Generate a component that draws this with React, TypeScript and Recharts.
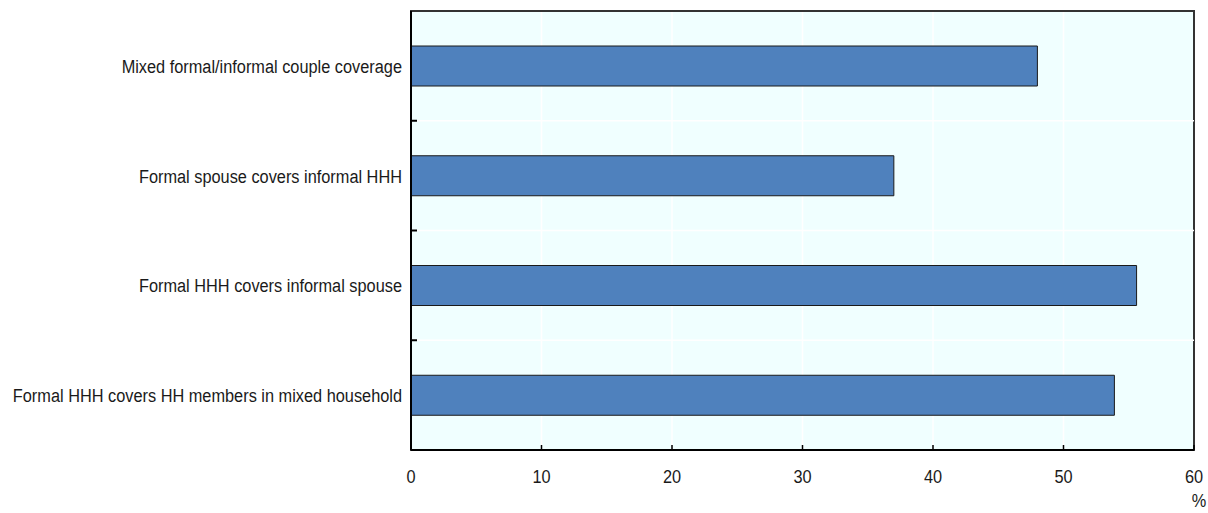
import React from 'react';
import { BarChart, Bar, XAxis, YAxis, CartesianGrid, ReferenceArea, ReferenceLine, Label } from 'recharts';

const categories = [
  'Mixed formal/informal couple coverage',
  'Formal spouse covers informal HHH',
  'Formal HHH covers informal spouse',
  'Formal HHH covers HH members in mixed household',
];
const values = [48.0, 37.0, 55.6, 53.9];
const xTicks = [0, 10, 20, 30, 40, 50, 60];

const data = categories.map((c, i) => ({ name: c, value: values[i] }));

const FONT = '"Liberation Sans", Arial, sans-serif';
const FS = 19;
const SX = 0.86;
const TXT = '#1a1a1a';

const YTick = (props: any) => {
  const { x, y, payload } = props;
  return (
    <g transform={`translate(${x},${y})`}>
      <text transform={`scale(${SX},1)`} x={0} y={0} dy={7} textAnchor="end" fill={TXT} fontSize={FS} fontFamily={FONT}>
        {payload.value}
      </text>
    </g>
  );
};

const XTick = (props: any) => {
  const { x, y, payload } = props;
  return (
    <g transform={`translate(${x},${y})`}>
      <text transform={`scale(${SX},1)`} x={0} y={0} dy={15} textAnchor="middle" fill={TXT} fontSize={FS} fontFamily={FONT}>
        {payload.value}
      </text>
    </g>
  );
};

// boundary line between categories: white grid line plus a short inner tick on the left axis
const BoundaryLine = (props: any) => {
  const { x1, y1, x2, y2 } = props;
  const left = Math.min(x1, x2);
  const right = Math.max(x1, x2);
  return (
    <g>
      <line x1={left} y1={y1} x2={right} y2={y2} stroke="#FFFFFF" strokeWidth={1.5} />
      <line x1={left} y1={y1} x2={left + 6} y2={y1} stroke="#000" strokeWidth={2} />
    </g>
  );
};

export default function App() {
  return (
    <div style={{ position: 'absolute', left: 0, top: 0, width: 1208, height: 513 }}>
      <BarChart
        width={1208}
        height={513}
        data={data}
        layout="vertical"
        margin={{ top: 11, right: 14, left: 0, bottom: 33 }}
      >
        <CartesianGrid
          fill="#F0FFFF"
          stroke="#FFFFFF"
          strokeWidth={1.5}
          horizontal={false}
          vertical={true}
        />
        {categories.slice(1).map((c) => (
          <ReferenceLine key={c} y={c} position="start" shape={<BoundaryLine />} ifOverflow="visible" />
        ))}
        <XAxis
          type="number"
          domain={[0, 60]}
          ticks={xTicks}
          interval={0}
          axisLine={{ stroke: '#000', strokeWidth: 2 }}
          tickLine={{ stroke: '#000', strokeWidth: 1.5 }}
          tickSize={-5}
          tickMargin={23}
          height={30}
          tick={<XTick />}
        >
          <Label
            content={(props: any) => {
              const vb = props.viewBox || {};
              return (
                <g transform={`translate(${vb.x + vb.width + 5},${vb.y + 57})`}>
                  <text transform={`scale(${SX},1)`} x={0} y={0} textAnchor="middle" fill={TXT} fontSize={FS} fontFamily={FONT}>
                    %
                  </text>
                </g>
              );
            }}
          />
        </XAxis>
        <YAxis
          type="category"
          dataKey="name"
          width={411}
          axisLine={{ stroke: '#000', strokeWidth: 2 }}
          tickLine={false}
          tickSize={0}
          tickMargin={9}
          interval={0}
          tick={<YTick />}
        />
        <ReferenceArea x1={0} x2={60} fill="none" stroke="#333" strokeWidth={2} ifOverflow="visible" />
        <Bar dataKey="value" fill="#4F81BD" stroke="#1a1a1a" strokeWidth={1} barSize={40} isAnimationActive={false} />
      </BarChart>
    </div>
  );
}
